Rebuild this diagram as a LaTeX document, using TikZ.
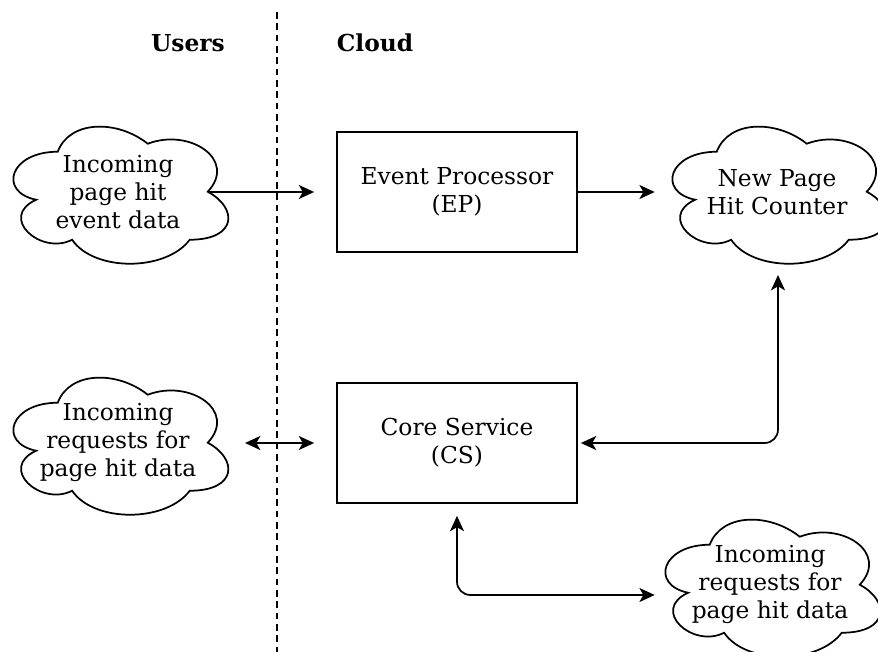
\documentclass[tikz,border=0pt]{standalone}
\usepackage{fontspec}
\setmainfont{DejaVu Serif}
\usetikzlibrary{arrows.meta,calc}
\newcommand\mycloud[1]{%
  \draw[cloudline, shift={(#1.north west)}, x=180pt, y=-120pt]
    (0.25,0.25) .. controls (0.05,0.25) and (0,0.5) .. (0.16,0.55)
    .. controls (0,0.66) and (0.18,0.9) .. (0.31,0.8)
    .. controls (0.4,1) and (0.7,1) .. (0.8,0.8)
    .. controls (1,0.8) and (1,0.6) .. (0.875,0.5)
    .. controls (1,0.3) and (0.8,0.1) .. (0.625,0.2)
    .. controls (0.5,0.05) and (0.3,0.05) .. (0.25,0.25) -- cycle;}
\begin{document}
\begin{tikzpicture}[x=0.75pt, y=-0.75pt,
  txt/.style={font=\fontsize{17.5}{21}\selectfont, align=center},
  head/.style={font=\fontsize{17.5}{21}\selectfont\bfseries},
  box/.style={txt, draw, line width=1.3pt, minimum width=180pt, minimum height=90pt, inner sep=0pt},
  cloudbox/.style={txt, minimum width=180pt, minimum height=120pt, inner sep=0pt},
  cloudline/.style={line width=1.3pt},
  arr/.style={line width=1.3pt, -{Stealth[length=11.5pt, width=10.5pt, inset=3pt]}},
  darr/.style={line width=1.3pt, {Stealth[length=11.5pt, width=10.5pt, inset=3pt]}-{Stealth[length=11.5pt, width=10.5pt, inset=3pt]}},
  divider/.style={line width=1pt, dash pattern=on 5pt off 3.5pt}
]
\useasboundingbox (0,0) rectangle (878,652);
\clip (0,0) rectangle (878,652);
\node[head] (users) at (188,43) {Users};
\node[head] (cloud) at (375,43) {Cloud};
\coordinate (dtop) at (277,12);
\coordinate (dbot) at (277,652);
\draw[divider] (dtop) -- (dbot);

\node[cloudbox] (c1) at (118,192) {Incoming\\page hit\\event data};
\node[box] (ep) at (457,192) {Event Processor\\(EP)};
\node[cloudbox] (c2) at (777,192) {New Page\\Hit Counter};
\node[cloudbox] (c3) at (118,443) {Incoming\\requests for\\page hit data};
\node[box] (cs) at (457,443) {Core Service\\(CS)};
\node[cloudbox] (c4) at (770,585) {Incoming\\requests for\\page hit data};
\mycloud{c1}
\mycloud{c2}
\mycloud{c3}
\mycloud{c4}

\draw[arr] ($(c1.center)+(90,0)$) -- ($(ep.west)+(-22,0)$);
\draw[arr] (ep.east) -- ($(ep.east -| c2.west)+(-2,0)$);
\draw[darr] ($(c3.center)+(127,0)$) -- ($(cs.west)+(-22,0)$);
\draw[darr, rounded corners=10pt] ($(c2.center)+(1,83)$) |- ($(cs.east)+(3,0)$);
\draw[darr, rounded corners=10pt] ($(cs.south)+(0,12)$) |- ($(c4.west)+(5,10)$);
\end{tikzpicture}
\end{document}
